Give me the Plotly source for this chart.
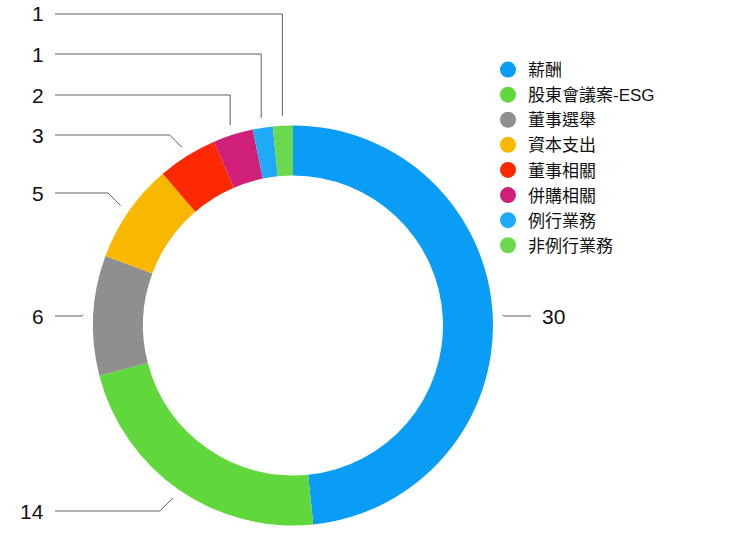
import math
import plotly.graph_objects as go

# ---- data ----
categories = ["薪酬", "股東會議案-ESG", "董事選舉", "資本支出", "董事相關", "併購相關", "例行業務", "非例行業務"]
values = [30, 14, 6, 5, 3, 2, 1, 1]

# ---- styles / layout ----
colors = ["#0a9df6", "#60d83b", "#8f8f8f", "#f8b800", "#fb2800", "#d01f79", "#20a9f6", "#6bd94d"]
label_y_px = [316, 511, 316, 193, 135, 95, 54, 14]   # label vertical positions (pixels from top)

W, H = 740, 534
CX, CY, R = 293, 325.5, 200
HOLE = 0.75
FONT = "Liberation Sans, Noto Sans CJK TC, sans-serif"


def px(x):
    return x / W


def py(y):
    return 1 - y / H


fig = go.Figure()
fig.add_trace(go.Pie(
    values=values,
    labels=categories,
    marker=dict(colors=colors, line=dict(width=0)),
    hole=HOLE,
    sort=False,
    direction="clockwise",
    rotation=0,
    textinfo="none",
    hoverinfo="label+value",
    showlegend=False,
    domain=dict(x=[px(CX - R), px(CX + R)], y=[py(CY + R), py(CY - R)]),
))

# legend with circle markers
for cat, col in zip(categories, colors):
    fig.add_trace(go.Scatter(
        x=[None], y=[None], mode="markers", name=cat,
        marker=dict(symbol="circle", size=16, color=col),
        showlegend=True, hoverinfo="skip",
    ))

# leader lines and value labels
total = sum(values)
cum = 0
shapes = []
annotations = []
for v, ly in zip(values, label_y_px):
    mid = (cum + v / 2) / total * 2 * math.pi
    cum += v
    ex = CX + R * 1.05 * math.sin(mid)
    ey = CY - R * 1.05 * math.cos(mid)
    right = math.sin(mid) > 0
    dy = ly - ey
    if abs(dy) <= 20:
        bx = ex + abs(dy) if right else ex - abs(dy)
    else:
        bx = ex
    endx = 531 if right else 55
    path = "M {} {} L {} {} L {} {}".format(px(ex), py(ey), px(bx), py(ly), px(endx), py(ly))
    shapes.append(dict(type="path", path=path, xref="paper", yref="paper",
                       line=dict(color="#5e5e5e", width=1)))
    annotations.append(dict(
        x=px(540) if right else px(46), y=py(ly), xref="paper", yref="paper",
        text=str(v), showarrow=False,
        xanchor="left" if right else "right", yanchor="middle",
        font=dict(size=21, color="#111111", family=FONT),
    ))

fig.update_layout(
    width=W, height=H,
    margin=dict(l=0, r=0, t=0, b=0),
    paper_bgcolor="white", plot_bgcolor="white",
    xaxis=dict(visible=False), yaxis=dict(visible=False),
    shapes=shapes,
    annotations=annotations,
    legend=dict(
        x=px(488), y=py(52), xanchor="left", yanchor="top",
        font=dict(size=17, color="#111111", family=FONT),
        itemsizing="trace", bgcolor="rgba(0,0,0,0)",
        tracegroupgap=0,
    ),
    font=dict(family=FONT),
)

fig.write_html(
    "out.html",
    config={"displayModeBar": False},
    post_script="document.body.style.margin='0';document.body.style.overflow='hidden';",
)
